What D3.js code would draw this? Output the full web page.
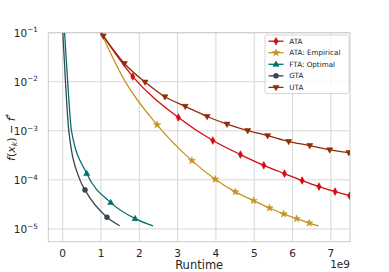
<!DOCTYPE html>
<html>
<head>
<meta charset="utf-8">
<script src="https://d3js.org/d3.v7.min.js"></script>
<style>
  body { margin: 0; background: #fff; }
  svg { display: block; font-family: "DejaVu Sans", sans-serif; }
</style>
</head>
<body>
<div id="chart"></div>
<script>
const width = 389, height = 272;
const margin = {top: 32.7, right: 39, bottom: 30.3, left: 48.3};

// ticks
const xTicks = [0, 1, 2, 3, 4, 5, 6, 7];
const yTicks = [1e-1, 1e-2, 1e-3, 1e-4, 1e-5];
const yTickExp = ["\u22121", "\u22122", "\u22123", "\u22124", "\u22125"];

// series (runtime in 1e9 units, suboptimality)
const ataX = [1.0, 1.83, 3.02, 3.92, 4.64, 5.25, 5.79, 6.25, 6.69, 7.11, 7.49];
const ataY = [0.1, 0.01277, 0.00187, 6.34e-4, 3.28e-4, 1.98e-4, 1.34e-4, 9.7e-5, 7.3e-5, 5.77e-5, 4.76e-5];
const ataMarks = [1, 2, 3, 4, 5, 6, 7, 8, 9, 10];

const empX = [1.0, 1.63, 2.466, 3.373, 3.983, 4.506, 4.984, 5.40, 5.769, 6.106, 6.436, 6.684];
const empY = [0.1, 0.0102, 1.324e-3, 2.47e-4, 1.03e-4, 5.69e-5, 3.78e-5, 2.68e-5, 2.02e-5, 1.62e-5, 1.32e-5, 1.15e-5];
const empMarks = [2, 3, 4, 5, 6, 7, 8, 9, 10];

const ftaX = [0.05, 0.131, 0.23, 0.628, 1.255, 1.891, 2.36];
const ftaY = [0.1, 0.01, 1e-3, 1.345e-4, 3.44e-5, 1.62e-5, 1.15e-5];
const ftaMarks = [3, 4, 5];

const gtaX = [0.005, 0.073, 0.16, 0.45, 0.583, 1.158, 1.49];
const gtaY = [0.1, 0.01, 1e-3, 1e-4, 6.25e-5, 1.73e-5, 1.16e-5];
const gtaMarks = [4, 5];

const utaX = [1.0, 1.06, 1.61, 2.15, 2.67, 3.20, 3.77, 4.29, 4.83, 5.35, 5.90, 6.45, 6.97, 7.47];
const utaY = [0.1, 0.0857, 0.0236, 0.00986, 0.00494, 0.00316, 0.00196, 0.00137, 0.00101, 7.98e-4, 6.05e-4, 5.01e-4, 4.09e-4, 3.6e-4];
const utaMarks = [1, 2, 3, 4, 5, 6, 7, 8, 9, 10, 11, 12, 13];

const series = [
  {name: "ATA", x: ataX, y: ataY, marks: ataMarks, color: "#d40a0f", marker: "thin"},
  {name: "ATA: Empirical", x: empX, y: empY, marks: empMarks, color: "#c8931c", marker: "star"},
  {name: "FTA: Optimal", x: ftaX, y: ftaY, marks: ftaMarks, color: "#00706c", marker: "tri"},
  {name: "GTA", x: gtaX, y: gtaY, marks: gtaMarks, color: "#3a4656", marker: "circle"},
  {name: "UTA", x: utaX, y: utaY, marks: utaMarks, color: "#922b08", marker: "tridown"}
];

const textColor = "#262626", gridColor = "#d6d6d6";

const svg = d3.select("#chart").append("svg")
  .attr("width", width)
  .attr("height", height);

const x = d3.scaleLinear()
  .domain([-0.375, 7.5])
  .range([margin.left, width - margin.right]);

const y = d3.scaleLog()
  .domain([Math.pow(10, -5.26), 0.1])
  .range([height - margin.bottom, margin.top]);

svg.append("defs").append("clipPath").attr("id", "clip")
  .append("rect")
  .attr("x", margin.left).attr("y", margin.top)
  .attr("width", width - margin.left - margin.right)
  .attr("height", height - margin.top - margin.bottom);

// grid
const grid = svg.append("g");
grid.selectAll(".gx").data(xTicks).enter().append("line")
  .attr("x1", d => x(d)).attr("x2", d => x(d))
  .attr("y1", margin.top).attr("y2", height - margin.bottom)
  .attr("stroke", gridColor).attr("stroke-width", 1);
grid.selectAll(".gy").data(yTicks).enter().append("line")
  .attr("x1", margin.left).attr("x2", width - margin.right)
  .attr("y1", d => y(d)).attr("y2", d => y(d))
  .attr("stroke", gridColor).attr("stroke-width", 1);

// spines
svg.append("rect")
  .attr("x", margin.left).attr("y", margin.top)
  .attr("width", width - margin.left - margin.right)
  .attr("height", height - margin.top - margin.bottom)
  .attr("fill", "none").attr("stroke", "#cccccc").attr("stroke-width", 1);

// tick labels
svg.selectAll(".xt").data(xTicks).enter().append("text")
  .attr("x", d => x(d)).attr("y", 257.2)
  .attr("text-anchor", "middle")
  .attr("font-size", 10.5).attr("fill", textColor)
  .text(d => d);

const yt = svg.selectAll(".yt").data(yTicks).enter().append("text")
  .attr("x", 37.8).attr("y", d => y(d) + 4.3)
  .attr("text-anchor", "end")
  .attr("font-size", 10.5).attr("fill", textColor);
yt.append("tspan").text("10");
yt.append("tspan").attr("dy", -4.6).attr("font-size", 7.2)
  .text((d, i) => yTickExp[i]);

// axis labels
svg.append("text")
  .attr("x", (margin.left + width - margin.right) / 2).attr("y", 269.3)
  .attr("text-anchor", "middle").attr("font-size", 11.5).attr("fill", textColor)
  .text("Runtime");
svg.append("text")
  .attr("x", width - margin.right).attr("y", 267.8)
  .attr("text-anchor", "end").attr("font-size", 10.5).attr("fill", textColor)
  .text("1e9");

const yl = svg.append("text")
  .attr("transform", `translate(14.5,${(margin.top + height - margin.bottom) / 2}) rotate(-90)`)
  .attr("text-anchor", "middle").attr("font-size", 11).attr("fill", textColor);
yl.append("tspan").attr("font-style", "italic").text("f");
yl.append("tspan").text("(");
yl.append("tspan").attr("font-style", "italic").text("x");
yl.append("tspan").attr("font-style", "italic").attr("font-size", 7.7).attr("dy", 2).text("k");
yl.append("tspan").attr("dy", -2).text(")");
yl.append("tspan").text(" \u2212 ");
yl.append("tspan").attr("font-style", "italic").text("f");
yl.append("tspan").attr("font-size", 7.7).attr("dy", -4).text("*");

// markers
function markerPath(type) {
  if (type === "thin") return "M0,-3.8L2.1,0L0,3.8L-2.1,0Z";
  if (type === "star") return d3.symbol(d3.symbolStar, 16)();
  if (type === "tri") return "M0,-3.3L3,2L-3,2Z";
  if (type === "tridown") return "M0,3.3L3,-2L-3,-2Z";
  return d3.symbol(d3.symbolCircle, 20)();
}

const line = d3.line()
  .x(d => x(d[0])).y(d => y(d[1]))
  .curve(d3.curveMonotoneX);

const plot = svg.append("g").attr("clip-path", "url(#clip)");

series.forEach(s => {
  const pts = s.x.map((v, i) => [v, s.y[i]]);
  plot.append("path")
    .datum(pts)
    .attr("d", line)
    .attr("fill", "none")
    .attr("stroke", s.color)
    .attr("stroke-width", 1.3);
  plot.selectAll(null).data(s.marks.map(i => pts[i])).enter().append("path")
    .attr("transform", d => `translate(${x(d[0])},${y(d[1])})`)
    .attr("d", markerPath(s.marker))
    .attr("fill", s.color)
    .attr("stroke", s.color)
    .attr("stroke-width", 0.6);
});

// legend
const legend = svg.append("g");
legend.append("rect")
  .attr("x", 265).attr("y", 35)
  .attr("width", 84).attr("height", 58.5)
  .attr("rx", 2)
  .attr("fill", "#fff").attr("fill-opacity", 0.8)
  .attr("stroke", "#cccccc").attr("stroke-width", 0.8);

series.forEach((s, i) => {
  const ly = 41.2 + i * 11.55;
  legend.append("line")
    .attr("x1", 268.5).attr("x2", 283.5)
    .attr("y1", ly).attr("y2", ly)
    .attr("stroke", s.color).attr("stroke-width", 1.3);
  legend.append("path")
    .attr("transform", `translate(276,${ly})`)
    .attr("d", markerPath(s.marker))
    .attr("fill", s.color).attr("stroke", s.color).attr("stroke-width", 0.6);
  legend.append("text")
    .attr("x", 289.3).attr("y", ly + 2.6)
    .attr("font-size", 7.2).attr("fill", textColor)
    .text(s.name);
});
</script>
</body>
</html>
